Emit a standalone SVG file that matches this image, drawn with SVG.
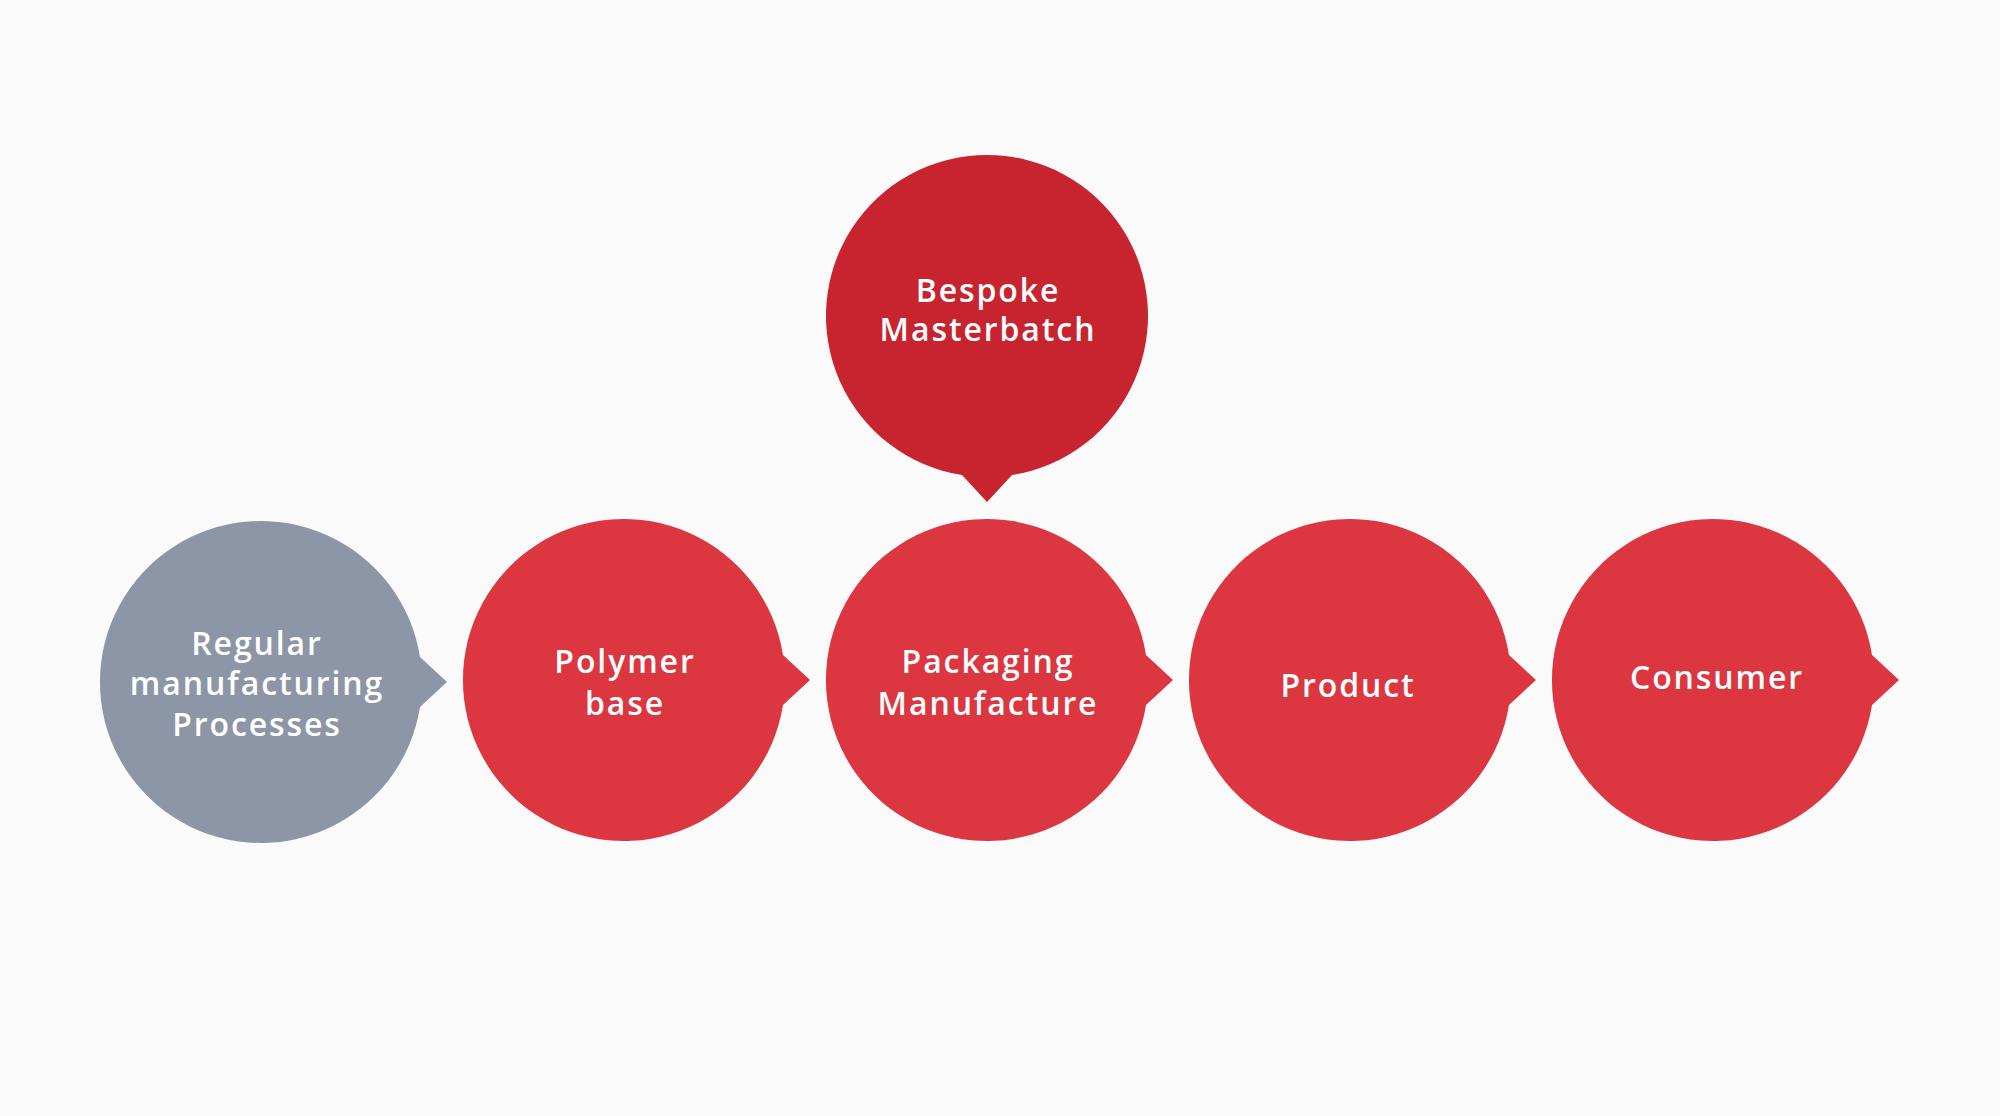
<svg xmlns="http://www.w3.org/2000/svg" xmlns:xlink="http://www.w3.org/1999/xlink" width="2000" height="1116" viewBox="0 0 2000 1116">
  <defs>
    <path id="bubble" d="M 159,-25 A 161 161 0 1 0 159,25 L 186,0 Z"/>
    <style>
      .red { fill: #DC3640; }
      .dark { fill: #C8242F; }
      .gray { fill: #8D96A6; }
      .lbl { font-family: "Open Sans", "Liberation Sans", sans-serif; font-weight: 600; font-size: 32px; fill: #FFFFFF; text-anchor: middle; letter-spacing: 1.9px; }
    </style>
  </defs>
  <rect x="0" y="0" width="2000" height="1116" fill="#FAFAFA"/>
  <g id="connectors"></g>
  <g id="node-bespoke">
    <use xlink:href="#bubble" class="dark" transform="translate(987,316) rotate(90)"/>
    <text class="lbl" x="988" y="302">Bespoke</text>
    <text class="lbl" x="988" y="341">Masterbatch</text>
  </g>
  <g id="node-regular">
    <use xlink:href="#bubble" class="gray" transform="translate(261,682)"/>
    <text class="lbl" x="257" y="655">Regular</text>
    <text class="lbl" x="257" y="695">manufacturing</text>
    <text class="lbl" x="257" y="736">Processes</text>
  </g>
  <g id="node-polymer">
    <use xlink:href="#bubble" class="red" transform="translate(624,680)"/>
    <text class="lbl" x="625" y="673">Polymer</text>
    <text class="lbl" x="625" y="715">base</text>
  </g>
  <g id="node-packaging">
    <use xlink:href="#bubble" class="red" transform="translate(987,680)"/>
    <text class="lbl" x="988" y="673">Packaging</text>
    <text class="lbl" x="988" y="715">Manufacture</text>
  </g>
  <g id="node-product">
    <use xlink:href="#bubble" class="red" transform="translate(1350,680)"/>
    <text class="lbl" x="1348" y="697">Product</text>
  </g>
  <g id="node-consumer">
    <use xlink:href="#bubble" class="red" transform="translate(1713,680)"/>
    <text class="lbl" x="1717" y="689">Consumer</text>
  </g>
</svg>
